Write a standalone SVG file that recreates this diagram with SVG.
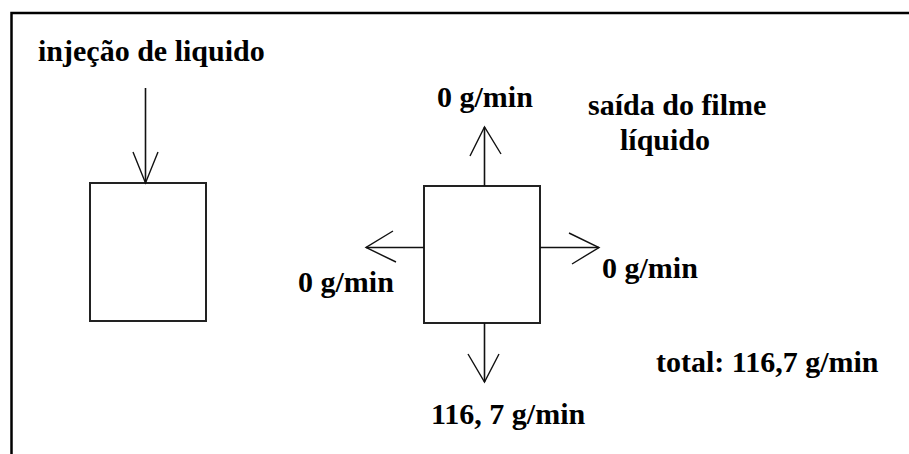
<svg xmlns="http://www.w3.org/2000/svg" width="909" height="454" viewBox="0 0 909 454">
<style>
text{font-family:"Liberation Serif","Times New Roman",serif;font-weight:bold;font-size:30px;fill:#000}
.box{fill:none;stroke:#222;stroke-width:2}
.ln{fill:none;stroke:#111;stroke-width:1.6}
.hd{fill:none;stroke:#111;stroke-width:1.4}
</style>
<rect width="909" height="454" fill="#fff"/>
<path d="M11.5,454 V13 H909" fill="none" stroke="#000" stroke-width="2.5"/>
<text x="38" y="61">injeção de liquido</text>
<g id="box-left"><rect class="box" x="90" y="183" width="116" height="138"/></g>
<g id="box-center"><rect class="box" x="424" y="186" width="116" height="137"/></g>
<g id="labels">
<text x="437" y="107">0 g/min</text>
<text x="588" y="115">saída do filme</text>
<text x="620" y="150">líquido</text>
<text x="298" y="292">0 g/min</text>
<text x="602" y="278">0 g/min</text>
<text x="656" y="372">total: 116,7 g/min</text>
<text x="431" y="424">116, 7 g/min</text>
</g>
<g id="connectors">
<line class="ln" x1="145.5" y1="88" x2="145.5" y2="183"/>
<polyline class="hd" points="133,152 145.5,183 158,152"/>
<line class="ln" x1="484.5" y1="186" x2="484.5" y2="127"/>
<polyline class="hd" points="470,156 484.5,127 501,154"/>
<line class="ln" x1="424" y1="247.5" x2="366" y2="247.5"/>
<polyline class="hd" points="393,231 366,247.5 396,262"/>
<line class="ln" x1="540" y1="247.5" x2="599" y2="247.5"/>
<polyline class="hd" points="569,233 599,247.5 572,264"/>
<line class="ln" x1="484.5" y1="323" x2="484.5" y2="382"/>
<polyline class="hd" points="468,354 484.5,382 499,354"/>
</g>
</svg>
